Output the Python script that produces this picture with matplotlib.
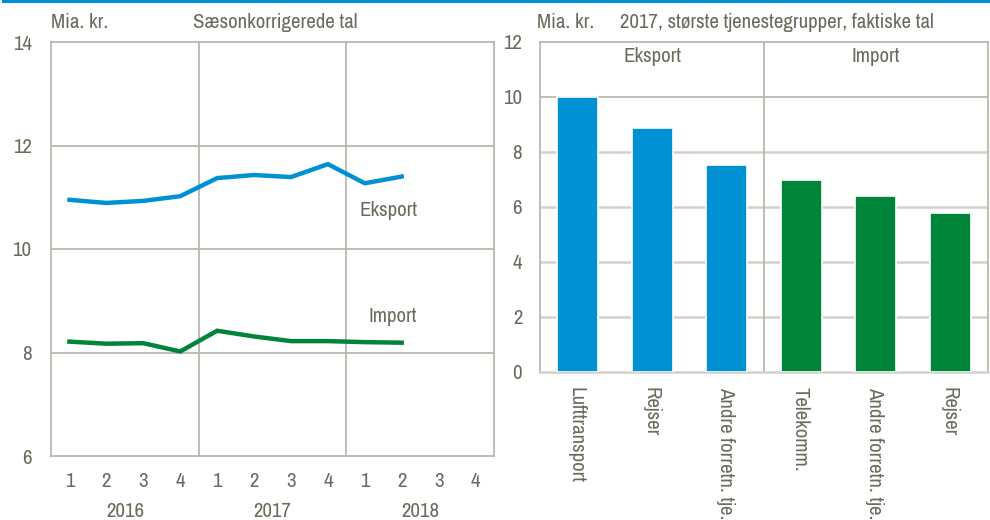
import matplotlib
matplotlib.use("Agg")
import matplotlib.pyplot as plt
from matplotlib.lines import Line2D
from matplotlib.transforms import blended_transform_factory
import numpy as np

plt.rcParams["font.family"] = ["Archivo Narrow", "Liberation Sans", "DejaVu Sans"]

# venstre panel: sæsonkorrigerede kvartalstal
years = ["2016", "2017", "2018"]
quarters = ["1", "2", "3", "4"]
eksport = [10.95, 10.89, 10.93, 11.02, 11.37, 11.43, 11.39, 11.64, 11.27, 11.40]
import_ = [8.21, 8.17, 8.18, 8.02, 8.42, 8.31, 8.22, 8.22, 8.20, 8.19]

# højre panel: største tjenestegrupper 2017
bar_labels = ["Lufttransport", "Rejser", "Andre forretn. tje.",
              "Telekomm.", "Andre forretn. tje.", "Rejser"]
bar_values = [10.0, 8.87, 7.51, 6.99, 6.40, 5.77]
bar_group = ["Eksport", "Eksport", "Eksport", "Import", "Import", "Import"]

BLUE = "#0091d5"
GREEN = "#00843a"
TEXT = "#6b6b5d"
GRID = "#b5b3a7"
LIGHT = "#d3d2ca"
FS = 15

W, H = 990, 520
fig = plt.figure(figsize=(W / 100, H / 100), dpi=100)


def px_axes(x0, y0, x1, y1):
    return fig.add_axes([x0 / W, 1 - y1 / H, (x1 - x0) / W, (y1 - y0) / H])


def px_text(x, y, s, **kw):
    fig.text(x / W, 1 - y / H, s, fontsize=FS, color=TEXT, va="center", **kw)


# blå streg øverst
fig.add_artist(Line2D([3 / W, 1], [1 - 1 / H, 1 - 1 / H], color=BLUE, lw=2.2))

# ---------- venstre panel ----------
ax = px_axes(51, 42, 494, 456)
n_q = len(years) * len(quarters)
x = np.arange(len(eksport)) + 0.5
ax.plot(x, eksport, color=BLUE, lw=3.2, solid_joinstyle="miter")
ax.plot(x, import_, color=GREEN, lw=3.2, solid_joinstyle="miter")
ax.set_xlim(0, n_q)
ax.set_ylim(6, 14)
ax.set_yticks([6, 8, 10, 12, 14])
ax.set_xticks([])
for yv in [8, 10, 12]:
    ax.axhline(yv, color=GRID, lw=1.2, zorder=0)
for xv in [4, 8]:
    ax.axvline(xv, color=GRID, lw=1.2, zorder=0)
for s in ax.spines.values():
    s.set_color(GRID)
    s.set_linewidth(1.2)
ax.tick_params(axis="y", length=0, pad=14, labelsize=FS, labelcolor=TEXT)
tr = blended_transform_factory(ax.transData, ax.transAxes)
for i in range(n_q):
    ax.text(i + 0.5, -0.0628, quarters[i % 4], transform=tr, ha="center",
            va="center", fontsize=FS, color=TEXT)
for j, yr in enumerate(years):
    ax.text(4 * j + 2, -0.135, yr, transform=tr, ha="center", va="center",
            fontsize=FS, color=TEXT)
px_text(389, 211, "Eksport", ha="center")
px_text(393, 316, "Import", ha="center")
px_text(51, 22, "Mia. kr.", ha="left")
px_text(275, 22, "Sæsonkorrigerede tal", ha="center")

# ---------- højre panel ----------
bx = px_axes(540.3, 42, 987.7, 371.7)
pos = np.arange(len(bar_values))
colors = [BLUE if g == "Eksport" else GREEN for g in bar_group]
bx.bar(pos, bar_values, width=0.55, color=colors, edgecolor="white",
       linewidth=1.2, zorder=3)
bx.set_xlim(-0.5, len(bar_values) - 0.5)
bx.set_ylim(0, 12)
bx.set_yticks(range(0, 13, 2))
bx.set_xticks([])
for yv in [2, 4, 6, 8]:
    bx.axhline(yv, color=LIGHT, lw=1.8, zorder=1)
bx.axhline(10, color=GRID, lw=1.2, zorder=1)
bx.axvline(2.5, color=GRID, lw=1.2, zorder=1)
for s in bx.spines.values():
    s.set_color(GRID)
    s.set_linewidth(1.2)
bx.spines["bottom"].set_color(LIGHT)
bx.spines["bottom"].set_linewidth(1.8)
bx.tick_params(axis="y", length=0, pad=13, labelsize=FS, labelcolor=TEXT)
trb = blended_transform_factory(bx.transData, bx.transAxes)
for p, lab in zip(pos, bar_labels):
    bx.text(p - 0.02, -0.046, lab, transform=trb, rotation=-90, ha="center",
            va="top", fontsize=FS, color=TEXT)
for grp, cx in [("Eksport", 1.0), ("Import", 4.0)]:
    bx.text(cx, 1 - (57 - 42) / 329.7, grp, transform=trb, ha="center",
            va="center", fontsize=FS, color=TEXT)
px_text(537, 22, "Mia. kr.", ha="left")
px_text(777, 22, "2017, største tjenestegrupper, faktiske tal", ha="center")

fig.savefig("out.png", dpi=100)
